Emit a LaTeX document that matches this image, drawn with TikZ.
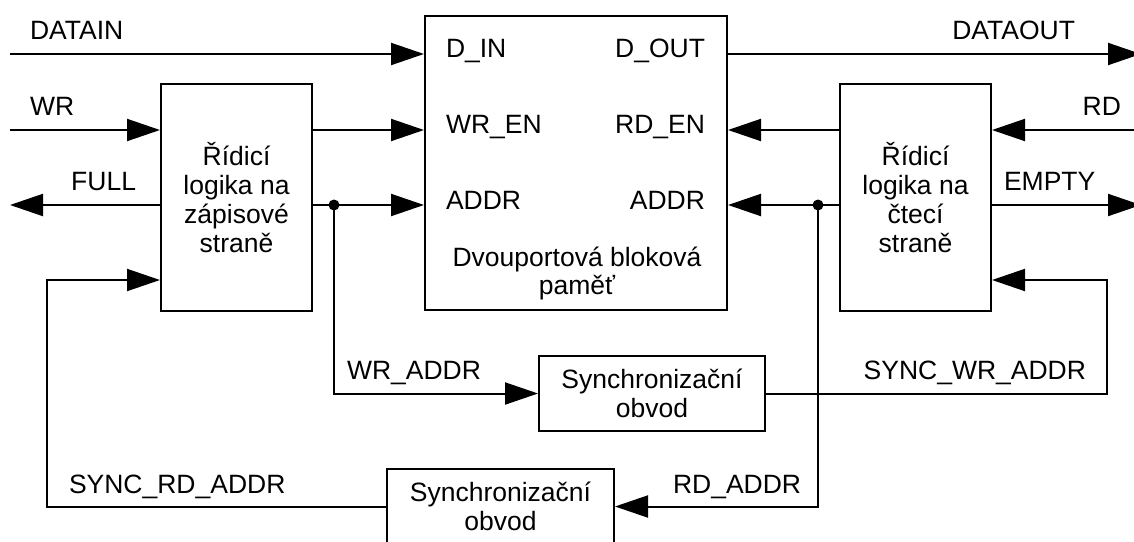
\documentclass[tikz,border=0pt]{standalone}
\usepackage{fontspec}
\setmainfont{Liberation Sans}
\usetikzlibrary{arrows.meta}
\begin{document}
\begin{tikzpicture}[x=1pt,y=-1pt,line width=2pt,
  blk/.style={draw,line width=2pt,inner sep=0pt,align=center,font=\fontsize{26.5}{29}\selectfont},
  lbl/.style={inner sep=0pt,font=\fontsize{26.5}{29}\selectfont},
  sig/.style={line width=2pt,-{Triangle[length=33pt,width=22pt]}},
  jdot/.style={circle,fill,inner sep=0pt,minimum size=11pt}]
\clip (0,0) rectangle (1134,541);
\fill[white] (0,0) rectangle (1134,541);
% blocks
\node[blk,minimum width=302pt,minimum height=294pt] (mem) at (576,163) {};
\node[blk,minimum width=151pt,minimum height=227pt] (wlog) at (236.5,197.5) {Řídicí\\logika na\\zápisové\\straně};
\node[blk,minimum width=151pt,minimum height=227pt] (rlog) at (915.5,197.5) {Řídicí\\logika na\\čtecí\\straně};
\node[blk,minimum width=226pt,minimum height=75pt] (wsync) at (652,393.5) {Synchronizační\\obvod};
\node[blk,minimum width=227pt,minimum height=75pt] (rsync) at (500.5,506.5) {Synchronizační\\obvod};
% memory texts
\node[lbl,anchor=base west] (din) at (445,57) {D\_IN};
\node[lbl,anchor=base west] (wren) at (445,133) {WR\_EN};
\node[lbl,anchor=base west] (waddr) at (445,209) {ADDR};
\node[lbl,anchor=base east] (dout) at (706,57) {D\_OUT};
\node[lbl,anchor=base east] (rden) at (706,133) {RD\_EN};
\node[lbl,anchor=base east] (raddr) at (706,209) {ADDR};
\node[lbl,anchor=base] (memt1) at (577,266) {Dvouportová bloková};
\node[lbl,anchor=base] (memt2) at (577,294) {paměť};
% signal labels
\node[lbl,anchor=base west] (ldatain) at (29,39) {DATAIN};
\node[lbl,anchor=base west] (lwr) at (29,115) {WR};
\node[lbl,anchor=base east] (lfull) at (137,190) {FULL};
\node[lbl,anchor=base east] (ldataout) at (1076,39) {DATAOUT};
\node[lbl,anchor=base east] (lrd) at (1122,115) {RD};
\node[lbl,anchor=base west] (lempty) at (1003,190) {EMPTY};
\node[lbl,anchor=base west] (lwraddr) at (346,379) {WR\_ADDR};
\node[lbl,anchor=base east] (lsyncwr) at (1087,379) {SYNC\_WR\_ADDR};
\node[lbl,anchor=base west] (lsyncrd) at (68,493) {SYNC\_RD\_ADDR};
\node[lbl,anchor=base west] (lrdaddr) at (672,493) {RD\_ADDR};
% coordinates
\coordinate (datain) at (10,54);
\coordinate (dataout) at (1141,54);
\coordinate (wr) at (10,130);
\coordinate (rd) at (1141,130);
\coordinate (full) at (10,205);
\coordinate (empty) at (1141,205);
\coordinate (fbw) at (1107,280);
\coordinate (fbr) at (47,280);
% connectors
\draw[sig] (datain) -- (datain -| mem.west);
\draw[sig] (dataout -| mem.east) -- (dataout);
\draw[sig] (wr) -- (wr -| wlog.west);
\draw[sig] (wr -| wlog.east) -- (wr -| mem.west);
\draw[sig] (full -| wlog.west) -- (full);
\draw[sig] (full -| wlog.east) -- (full -| mem.west);
\draw[sig] (rd) -- (rd -| rlog.east);
\draw[sig] (rd -| rlog.west) -- (rd -| mem.east);
\draw[sig] (empty -| rlog.east) -- (empty);
\draw[sig] (empty -| rlog.west) -- (empty -| mem.east);
\node[jdot] (wd) at (334,205) {};
\node[jdot] (rdd) at (818,205) {};
\draw[sig] (wd.center) |- (wsync.west);
\draw[sig] (rdd.center) |- (rsync.east);
\draw[sig] (wsync.east) -| (fbw) -- (fbw -| rlog.east);
\draw[sig] (rsync.west) -| (fbr) -- (fbr -| wlog.west);
\end{tikzpicture}
\end{document}
